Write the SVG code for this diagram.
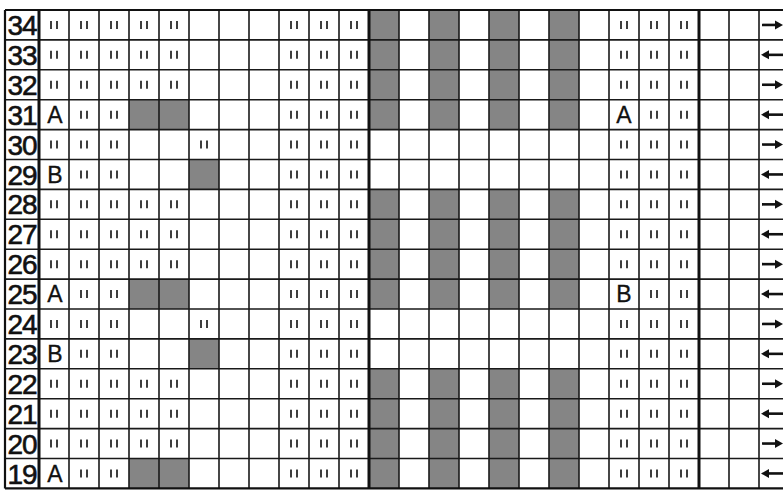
<svg xmlns="http://www.w3.org/2000/svg" xmlns:xlink="http://www.w3.org/1999/xlink" width="783" height="493" viewBox="0 0 783 493">
<style>
.num{font-family:"Liberation Sans",Arial,sans-serif;font-size:28px;fill:#111;stroke:#111;stroke-width:0.6;text-anchor:middle;letter-spacing:-1px}
.let{font-family:"Liberation Sans",Arial,sans-serif;font-size:23px;fill:#111;stroke:#111;stroke-width:0.3;text-anchor:middle}
.g{fill:#858585}
.ln{stroke:#1a1a1a;stroke-width:1.6;fill:none}
.thk{stroke:#111;stroke-width:3;fill:none}
.arr{stroke:#111;stroke-width:2.6}
</style>
<defs>
<g id="m"><path d="M-3,-4V4M3,-4V4" stroke="#2a2a2a" stroke-width="1.8"/></g>
<path id="ar" d="M762,0H777" class="arr"/>
<polygon id="arh" points="783,0 775,-4.5 775,4.5" fill="#111"/>
<path id="al" d="M768,0H783" class="arr"/>
<polygon id="alh" points="761,0 769,-4.5 769,4.5" fill="#111"/>
</defs>
<rect width="783" height="493" fill="#fff"/>
<g id="shading">
<rect class="g" x="129" y="99.7" width="60" height="29.9"/>
<rect class="g" x="189" y="159.5" width="30" height="29.9"/>
<rect class="g" x="129" y="279.1" width="60" height="29.9"/>
<rect class="g" x="189" y="338.9" width="30" height="29.9"/>
<rect class="g" x="129" y="458.5" width="60" height="29.9"/>
<rect class="g" x="369" y="10" width="30" height="119.6"/>
<rect class="g" x="429" y="10" width="30" height="119.6"/>
<rect class="g" x="489" y="10" width="30" height="119.6"/>
<rect class="g" x="549" y="10" width="30" height="119.6"/>
<rect class="g" x="369" y="189.4" width="30" height="119.6"/>
<rect class="g" x="429" y="189.4" width="30" height="119.6"/>
<rect class="g" x="489" y="189.4" width="30" height="119.6"/>
<rect class="g" x="549" y="189.4" width="30" height="119.6"/>
<rect class="g" x="369" y="368.8" width="30" height="119.6"/>
<rect class="g" x="429" y="368.8" width="30" height="119.6"/>
<rect class="g" x="489" y="368.8" width="30" height="119.6"/>
<rect class="g" x="549" y="368.8" width="30" height="119.6"/>
</g>
<g id="grid">
<path class="ln" d="M5,39.9H783M5,69.8H783M5,99.7H783M5,129.6H783M5,159.5H783M5,189.4H783M5,219.3H783M5,249.2H783M5,279.1H783M5,309H783M5,338.9H783M5,368.8H783M5,398.7H783M5,428.6H783M5,458.5H783"/>
<path class="ln" d="M69,10V488.4M99,10V488.4M129,10V488.4M159,10V488.4M189,10V488.4M219,10V488.4M249,10V488.4M279,10V488.4M309,10V488.4M339,10V488.4M399,10V488.4M429,10V488.4M459,10V488.4M489,10V488.4M519,10V488.4M549,10V488.4M579,10V488.4M609,10V488.4M639,10V488.4M669,10V488.4M729,10V488.4M759,10V488.4"/>
<path class="thk" d="M39,10V488.4M369,10V488.4M699,10V488.4"/>
<path stroke="#111" stroke-width="2.2" fill="none" d="M5,10H783M5,488.4H783M5,10V488.4"/>
</g>
<g id="row-numbers">
<text class="num" x="22" y="35">34</text>
<text class="num" x="22" y="64.9">33</text>
<text class="num" x="22" y="94.8">32</text>
<text class="num" x="22" y="124.7">31</text>
<text class="num" x="22" y="154.6">30</text>
<text class="num" x="22" y="184.5">29</text>
<text class="num" x="22" y="214.4">28</text>
<text class="num" x="22" y="244.3">27</text>
<text class="num" x="22" y="274.2">26</text>
<text class="num" x="22" y="304.1">25</text>
<text class="num" x="22" y="334">24</text>
<text class="num" x="22" y="363.9">23</text>
<text class="num" x="22" y="393.8">22</text>
<text class="num" x="22" y="423.7">21</text>
<text class="num" x="22" y="453.6">20</text>
<text class="num" x="22" y="483.5">19</text>
</g>
<g id="letters">
<text class="let" x="55" y="123">A</text>
<text class="let" x="55" y="182.8">B</text>
<text class="let" x="55" y="302.4">A</text>
<text class="let" x="55" y="362.2">B</text>
<text class="let" x="55" y="481.8">A</text>
<text class="let" x="624" y="123">A</text>
<text class="let" x="624" y="302.4">B</text>
</g>
<g id="marks">
<g transform="translate(0,24.95)"><use href="#m" x="54"/><use href="#m" x="84"/><use href="#m" x="114"/><use href="#m" x="144"/><use href="#m" x="174"/><use href="#m" x="294"/><use href="#m" x="324"/><use href="#m" x="354"/><use href="#m" x="624"/><use href="#m" x="654"/><use href="#m" x="684"/></g>
<g transform="translate(0,54.85)"><use href="#m" x="54"/><use href="#m" x="84"/><use href="#m" x="114"/><use href="#m" x="144"/><use href="#m" x="174"/><use href="#m" x="294"/><use href="#m" x="324"/><use href="#m" x="354"/><use href="#m" x="624"/><use href="#m" x="654"/><use href="#m" x="684"/></g>
<g transform="translate(0,84.75)"><use href="#m" x="54"/><use href="#m" x="84"/><use href="#m" x="114"/><use href="#m" x="144"/><use href="#m" x="174"/><use href="#m" x="294"/><use href="#m" x="324"/><use href="#m" x="354"/><use href="#m" x="624"/><use href="#m" x="654"/><use href="#m" x="684"/></g>
<g transform="translate(0,114.65)"><use href="#m" x="84"/><use href="#m" x="114"/><use href="#m" x="294"/><use href="#m" x="324"/><use href="#m" x="354"/><use href="#m" x="654"/><use href="#m" x="684"/></g>
<g transform="translate(0,144.55)"><use href="#m" x="54"/><use href="#m" x="84"/><use href="#m" x="114"/><use href="#m" x="204"/><use href="#m" x="294"/><use href="#m" x="324"/><use href="#m" x="354"/><use href="#m" x="624"/><use href="#m" x="654"/><use href="#m" x="684"/></g>
<g transform="translate(0,174.45)"><use href="#m" x="84"/><use href="#m" x="114"/><use href="#m" x="294"/><use href="#m" x="324"/><use href="#m" x="354"/><use href="#m" x="624"/><use href="#m" x="654"/><use href="#m" x="684"/></g>
<g transform="translate(0,204.35)"><use href="#m" x="54"/><use href="#m" x="84"/><use href="#m" x="114"/><use href="#m" x="144"/><use href="#m" x="174"/><use href="#m" x="294"/><use href="#m" x="324"/><use href="#m" x="354"/><use href="#m" x="624"/><use href="#m" x="654"/><use href="#m" x="684"/></g>
<g transform="translate(0,234.25)"><use href="#m" x="54"/><use href="#m" x="84"/><use href="#m" x="114"/><use href="#m" x="144"/><use href="#m" x="174"/><use href="#m" x="294"/><use href="#m" x="324"/><use href="#m" x="354"/><use href="#m" x="624"/><use href="#m" x="654"/><use href="#m" x="684"/></g>
<g transform="translate(0,264.15)"><use href="#m" x="54"/><use href="#m" x="84"/><use href="#m" x="114"/><use href="#m" x="144"/><use href="#m" x="174"/><use href="#m" x="294"/><use href="#m" x="324"/><use href="#m" x="354"/><use href="#m" x="624"/><use href="#m" x="654"/><use href="#m" x="684"/></g>
<g transform="translate(0,294.05)"><use href="#m" x="84"/><use href="#m" x="114"/><use href="#m" x="294"/><use href="#m" x="324"/><use href="#m" x="354"/><use href="#m" x="654"/><use href="#m" x="684"/></g>
<g transform="translate(0,323.95)"><use href="#m" x="54"/><use href="#m" x="84"/><use href="#m" x="114"/><use href="#m" x="204"/><use href="#m" x="294"/><use href="#m" x="324"/><use href="#m" x="354"/><use href="#m" x="624"/><use href="#m" x="654"/><use href="#m" x="684"/></g>
<g transform="translate(0,353.85)"><use href="#m" x="84"/><use href="#m" x="114"/><use href="#m" x="294"/><use href="#m" x="324"/><use href="#m" x="354"/><use href="#m" x="624"/><use href="#m" x="654"/><use href="#m" x="684"/></g>
<g transform="translate(0,383.75)"><use href="#m" x="54"/><use href="#m" x="84"/><use href="#m" x="114"/><use href="#m" x="144"/><use href="#m" x="174"/><use href="#m" x="294"/><use href="#m" x="324"/><use href="#m" x="354"/><use href="#m" x="624"/><use href="#m" x="654"/><use href="#m" x="684"/></g>
<g transform="translate(0,413.65)"><use href="#m" x="54"/><use href="#m" x="84"/><use href="#m" x="114"/><use href="#m" x="144"/><use href="#m" x="174"/><use href="#m" x="294"/><use href="#m" x="324"/><use href="#m" x="354"/><use href="#m" x="624"/><use href="#m" x="654"/><use href="#m" x="684"/></g>
<g transform="translate(0,443.55)"><use href="#m" x="54"/><use href="#m" x="84"/><use href="#m" x="114"/><use href="#m" x="144"/><use href="#m" x="174"/><use href="#m" x="294"/><use href="#m" x="324"/><use href="#m" x="354"/><use href="#m" x="624"/><use href="#m" x="654"/><use href="#m" x="684"/></g>
<g transform="translate(0,473.45)"><use href="#m" x="84"/><use href="#m" x="114"/><use href="#m" x="294"/><use href="#m" x="324"/><use href="#m" x="354"/><use href="#m" x="624"/><use href="#m" x="654"/><use href="#m" x="684"/></g>
</g>
<g id="direction-arrows">
<g transform="translate(0,24.95)"><use href="#ar"/><use href="#arh"/></g>
<g transform="translate(0,54.85)"><use href="#al"/><use href="#alh"/></g>
<g transform="translate(0,84.75)"><use href="#ar"/><use href="#arh"/></g>
<g transform="translate(0,114.65)"><use href="#al"/><use href="#alh"/></g>
<g transform="translate(0,144.55)"><use href="#ar"/><use href="#arh"/></g>
<g transform="translate(0,174.45)"><use href="#al"/><use href="#alh"/></g>
<g transform="translate(0,204.35)"><use href="#ar"/><use href="#arh"/></g>
<g transform="translate(0,234.25)"><use href="#al"/><use href="#alh"/></g>
<g transform="translate(0,264.15)"><use href="#ar"/><use href="#arh"/></g>
<g transform="translate(0,294.05)"><use href="#al"/><use href="#alh"/></g>
<g transform="translate(0,323.95)"><use href="#ar"/><use href="#arh"/></g>
<g transform="translate(0,353.85)"><use href="#al"/><use href="#alh"/></g>
<g transform="translate(0,383.75)"><use href="#ar"/><use href="#arh"/></g>
<g transform="translate(0,413.65)"><use href="#al"/><use href="#alh"/></g>
<g transform="translate(0,443.55)"><use href="#ar"/><use href="#arh"/></g>
<g transform="translate(0,473.45)"><use href="#al"/><use href="#alh"/></g>
</g>
</svg>
